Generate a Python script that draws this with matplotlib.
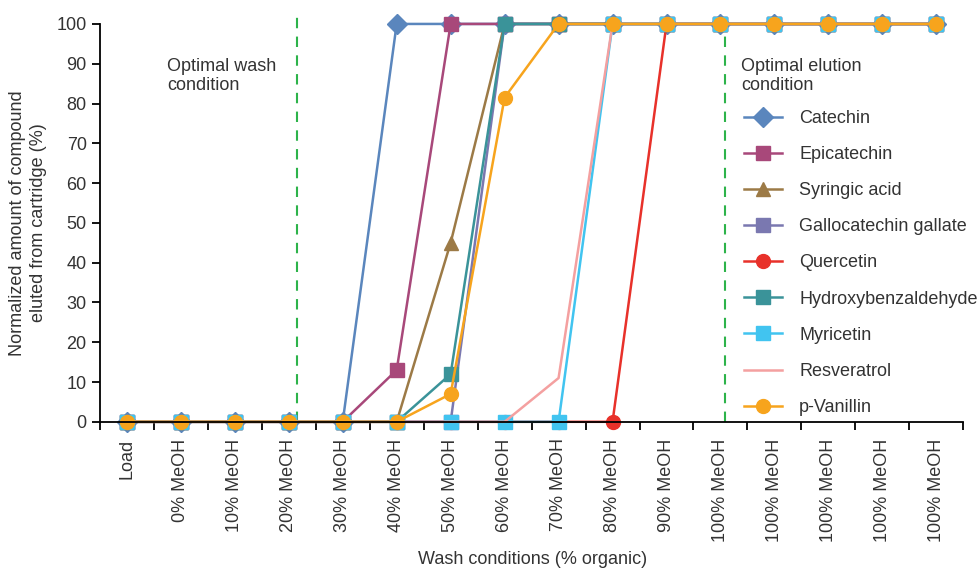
import numpy as np
import matplotlib.pyplot as plt

plt.rcParams['font.family'] = ['Liberation Sans', 'DejaVu Sans']

# Wash conditions on the x axis
conditions = ['Load', '0% MeOH', '10% MeOH', '20% MeOH', '30% MeOH', '40% MeOH',
              '50% MeOH', '60% MeOH', '70% MeOH', '80% MeOH', '90% MeOH',
              '100% MeOH', '100% MeOH', '100% MeOH', '100% MeOH', '100% MeOH']

# Normalized amount eluted (%) per compound
catechin = [0, 0, 0, 0, 0, 100, 100, 100, 100, 100, 100, 100, 100, 100, 100, 100]
epicatechin = [0, 0, 0, 0, 0, 13, 100, 100, 100, 100, 100, 100, 100, 100, 100, 100]
syringic = [0, 0, 0, 0, 0, 0, 45, 100, 100, 100, 100, 100, 100, 100, 100, 100]
gallocatechin = [0, 0, 0, 0, 0, 0, 0, 100, 100, 100, 100, 100, 100, 100, 100, 100]
quercetin = [0, 0, 0, 0, 0, 0, 0, 0, 0, 0, 100, 100, 100, 100, 100, 100]
hydroxybenz = [0, 0, 0, 0, 0, 0, 12, 100, 100, 100, 100, 100, 100, 100, 100, 100]
myricetin = [0, 0, 0, 0, 0, 0, 0, 0, 0, 100, 100, 100, 100, 100, 100, 100]
resveratrol = [0, 0, 0, 0, 0, 0, 0, 0, 11, 100, 100, 100, 100, 100, 100, 100]
vanillin = [0, 0, 0, 0, 0, 0, 7, 81.5, 100, 100, 100, 100, 100, 100, 100, 100]

# optimal wash / elution positions (category units)
wash_pos = 3.15
elution_pos = 11.09

series = [
    ('Catechin', catechin, '#5a86bd', 'D', 10),
    ('Epicatechin', epicatechin, '#a8487a', 's', 10),
    ('Syringic acid', syringic, '#9c7a46', '^', 10),
    ('Gallocatechin gallate', gallocatechin, '#7a78b0', 's', 10),
    ('Quercetin', quercetin, '#e8312a', 'o', 10),
    ('Hydroxybenzaldehyde', hydroxybenz, '#3a9399', 's', 10),
    ('Myricetin', myricetin, '#41c4f0', 's', 10),
    ('Resveratrol', resveratrol, '#f4a0a0', None, 10),
    ('p-Vanillin', vanillin, '#f7a41d', 'o', 10),
]

fs = 13
txt = '#333333'
x = np.arange(len(conditions))

fig = plt.figure(figsize=(9.79, 5.70), dpi=100)
ax = fig.add_axes([0.102, 0.26, 0.882, 0.698])

for name, vals, col, mk, ms in series:
    ax.plot(x, vals, color=col, marker=mk, markersize=ms, linewidth=1.8,
            label=name, clip_on=False)

# optimal condition lines
for pos in [wash_pos, elution_pos]:
    ax.vlines(pos, 0, 102.3, color='#2db34a', linestyle=(0, (5, 4)),
              linewidth=1.5, clip_on=False, zorder=1)
ax.text(0.75, 87.0, 'Optimal wash\ncondition', fontsize=fs, color=txt,
        va='center', linespacing=1.15)
ax.text(11.38, 87.0, 'Optimal elution\ncondition', fontsize=fs, color=txt,
        va='center', linespacing=1.15)

ax.set_xlim(-0.5, 15.5)
ax.set_ylim(0, 100)
ax.set_yticks(np.arange(0, 101, 10))
ax.set_xticks(x)
ax.set_xticklabels(conditions, rotation=90, color=txt)
ax.tick_params(axis='x', length=0, labelsize=fs, pad=12)
ax.set_xticks(np.arange(-0.5, 15.6, 1), minor=True)
ax.tick_params(axis='x', which='minor', length=6, width=1.3, direction='out')
ax.tick_params(axis='y', labelsize=fs, length=6, width=1.3, labelcolor=txt)
ax.spines['top'].set_visible(False)
ax.spines['right'].set_visible(False)
ax.spines['left'].set_linewidth(1.3)
ax.spines['bottom'].set_linewidth(1.3)

fig.text(0.544, 0.019, 'Wash conditions (% organic)', fontsize=fs, color=txt,
         ha='center', va='center')
ax.set_ylabel('Normalized amount of compound\neluted from cartridge (%)',
              fontsize=fs, color=txt, labelpad=7, linespacing=1.3)

ax.legend(loc='upper left', bbox_to_anchor=(0.746, 0.784), frameon=False,
          fontsize=fs, handlelength=2.1, labelspacing=1.06, borderaxespad=0,
          borderpad=0, handletextpad=0.95, labelcolor=txt)

fig.savefig('out.png', dpi=100)
